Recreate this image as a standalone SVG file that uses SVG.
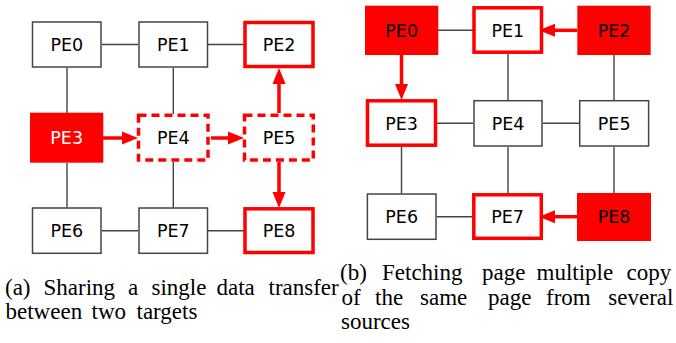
<svg xmlns="http://www.w3.org/2000/svg" width="676" height="343" viewBox="0 0 676 343">
<defs>
<style>
.n rect{fill:#fff;stroke:#444;stroke-width:1.5}
.n.r rect{stroke:#f00;stroke-width:3.5}
.n.d rect{stroke:#f00;stroke-width:3.5;stroke-dasharray:8,5}
.n.f rect{fill:#f00;stroke:none}
.n text{font-family:"DejaVu Sans",sans-serif;font-size:17.5px;text-anchor:middle;fill:#000}
.n.w text{fill:#fff}
.l{stroke:#444;stroke-width:1.4;fill:none}
.a{stroke:#f00;stroke-width:3.5;fill:none;marker-end:url(#ah)}
.cap{font-family:"Liberation Serif","Times New Roman",serif;font-size:23px;fill:#000}
</style>
<marker id="ah" markerUnits="userSpaceOnUse" markerWidth="16" markerHeight="14" refX="5" refY="7" orient="auto">
<path d="M0,0.5 L16,7 L0,13.5 z" fill="#f00"/>
</marker>
</defs>
<g id="connectors">
<!-- panel a -->
<line class="l" x1="102" y1="44.5" x2="138" y2="44.5"/>
<line class="l" x1="208" y1="44.5" x2="244" y2="44.5"/>
<line class="l" x1="67" y1="68" x2="67" y2="113"/>
<line class="l" x1="173.3" y1="68" x2="173.3" y2="114"/>
<line class="l" x1="67" y1="163" x2="67" y2="207.5"/>
<line class="l" x1="173.3" y1="162" x2="173.3" y2="207.5"/>
<line class="l" x1="102" y1="230.7" x2="138" y2="230.7"/>
<line class="l" x1="208" y1="230.7" x2="244" y2="230.7"/>
<line class="a" x1="103" y1="138" x2="127" y2="138"/>
<line class="a" x1="211" y1="138" x2="233" y2="138"/>
<line class="a" x1="279" y1="113" x2="279" y2="79"/>
<line class="a" x1="279" y1="162" x2="279" y2="197"/>
<!-- panel b -->
<line class="l" x1="438" y1="30.3" x2="473" y2="30.3"/>
<line class="l" x1="508" y1="54" x2="508" y2="100"/>
<line class="l" x1="614" y1="55" x2="614" y2="100"/>
<line class="l" x1="437" y1="123.3" x2="473" y2="123.3"/>
<line class="l" x1="543" y1="123.3" x2="579" y2="123.3"/>
<line class="l" x1="401.5" y1="147" x2="401.5" y2="193.5"/>
<line class="l" x1="508" y1="147" x2="508" y2="193.5"/>
<line class="l" x1="614" y1="147" x2="614" y2="193.5"/>
<line class="l" x1="437" y1="216.7" x2="473" y2="216.7"/>
<line class="a" x1="577" y1="30.3" x2="550" y2="30.3"/>
<line class="a" x1="401.5" y1="55" x2="401.5" y2="89"/>
<line class="a" x1="577" y1="216.7" x2="550" y2="216.7"/>
</g>
<!-- panel a nodes -->
<g id="a-PE0" class="n"><rect x="32.5" y="22" width="68.5" height="45"/><text x="66.8" y="50.9">PE0</text></g>
<g id="a-PE1" class="n"><rect x="139" y="22" width="68.5" height="45"/><text x="173.3" y="50.9">PE1</text></g>
<g id="a-PE2" class="n r"><rect x="245" y="22.5" width="68" height="44"/><text x="279" y="50.9">PE2</text></g>
<g id="a-PE3" class="n f w"><rect x="30" y="112.7" width="73.3" height="50"/><text x="66.7" y="144.4">PE3</text></g>
<g id="a-PE4" class="n d"><rect x="138.5" y="115.2" width="69.5" height="44.8"/><text x="173.3" y="144.4">PE4</text></g>
<g id="a-PE5" class="n d"><rect x="244.5" y="115.2" width="68.8" height="44.8"/><text x="279" y="144.4">PE5</text></g>
<g id="a-PE6" class="n"><rect x="32.5" y="208" width="68.5" height="45.3"/><text x="66.8" y="237.1">PE6</text></g>
<g id="a-PE7" class="n"><rect x="139" y="208" width="68.5" height="45.3"/><text x="173.3" y="237.1">PE7</text></g>
<g id="a-PE8" class="n r"><rect x="245" y="208.8" width="68" height="43.7"/><text x="279" y="237.1">PE8</text></g>
<!-- panel b nodes -->
<g id="b-PE0" class="n f"><rect x="365" y="5.7" width="73.3" height="49.3"/><text x="401.7" y="36.7">PE0</text></g>
<g id="b-PE1" class="n r"><rect x="474" y="7.8" width="67.5" height="44.4"/><text x="507.8" y="36.7">PE1</text></g>
<g id="b-PE2" class="n f"><rect x="577.3" y="5.7" width="73.4" height="49.3"/><text x="614" y="36.7">PE2</text></g>
<g id="b-PE3" class="n r"><rect x="367.5" y="100.8" width="68" height="44.4"/><text x="401.5" y="129.7">PE3</text></g>
<g id="b-PE4" class="n"><rect x="474" y="100.7" width="68" height="45.3"/><text x="508" y="129.7">PE4</text></g>
<g id="b-PE5" class="n"><rect x="579.7" y="100.7" width="68.9" height="45.3"/><text x="614.2" y="129.7">PE5</text></g>
<g id="b-PE6" class="n"><rect x="367.4" y="194" width="68.6" height="45.3"/><text x="401.7" y="223.1">PE6</text></g>
<g id="b-PE7" class="n r"><rect x="473.8" y="194.8" width="67.5" height="43.5"/><text x="507.5" y="223.1">PE7</text></g>
<g id="b-PE8" class="n f"><rect x="577" y="193" width="74" height="48"/><text x="614" y="223.1">PE8</text></g>
<!-- captions -->
<text class="cap" y="295"><tspan x="5">(a)</tspan><tspan x="43.5">Sharing</tspan><tspan x="128">a</tspan><tspan x="151.5">single</tspan><tspan x="216.5">data</tspan><tspan x="268.5">transfer</tspan></text>
<text class="cap" y="319"><tspan x="5.5">between</tspan><tspan x="91.5">two</tspan><tspan x="136.5">targets</tspan></text>
<text class="cap" y="280"><tspan x="340">(b)</tspan><tspan x="382">Fetching</tspan><tspan x="482">page</tspan><tspan x="536.5">multiple</tspan><tspan x="626.5">copy</tspan></text>
<text class="cap" y="304.5"><tspan x="341.5">of</tspan><tspan x="375">the</tspan><tspan x="420">same</tspan><tspan x="488">page</tspan><tspan x="546">from</tspan><tspan x="608.3">several</tspan></text>
<text class="cap" y="329"><tspan x="341">sources</tspan></text>
</svg>
